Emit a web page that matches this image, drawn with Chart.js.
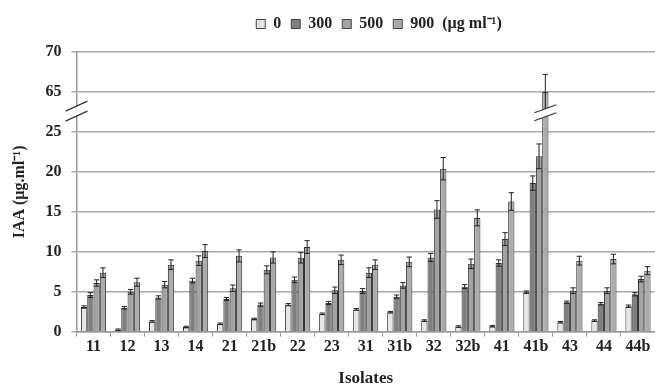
<!DOCTYPE html>
<html>
<head>
<meta charset="utf-8">
<script src="https://cdn.jsdelivr.net/npm/chart.js@4.4.1/dist/chart.umd.min.js"></script>
<style>
  html,body{margin:0;padding:0;background:#fff;}
  #wrap{width:655px;height:385px;position:relative;}
</style>
</head>
<body>
<div id="wrap"><canvas id="c"></canvas></div>
<script>
const categories = ['11','12','13','14','21','21b','22','23','31','31b','32','32b','41','41b','43','44','44b'];
const seriesNames = ['0','300','500','900'];
const unitText = '(µg ml⁻¹)';
const s0   = [3.1, 0.25, 1.3, 0.6, 1.0, 1.6, 3.4, 2.25, 2.8, 2.45, 1.4, 0.65, 0.7, 4.95, 1.2, 1.4, 3.2];
const s300 = [4.6, 3.0, 4.3, 6.4, 4.1, 3.4, 6.5, 3.6, 5.1, 4.4, 9.3, 5.65, 8.6, 18.6, 3.7, 3.5, 4.7];
const s500 = [6.1, 5.0, 5.9, 8.9, 5.45, 7.75, 9.25, 5.2, 7.4, 5.8, 15.3, 8.5, 11.6, 21.95, 5.15, 5.15, 6.6];
const s900 = [7.4, 6.2, 8.4, 10.1, 9.5, 9.3, 10.6, 9.0, 8.4, 8.75, 20.4, 14.25, 16.3, 65.0, 8.9, 9.1, 7.65];
const e0   = [0.15, 0.1, 0.1, 0.1, 0.1, 0.1, 0.15, 0.1, 0.1, 0.1, 0.1, 0.1, 0.1, 0.15, 0.1, 0.1, 0.15];
const e300 = [0.3, 0.15, 0.2, 0.3, 0.2, 0.2, 0.35, 0.2, 0.3, 0.2, 0.5, 0.25, 0.4, 0.9, 0.15, 0.15, 0.2];
const e500 = [0.4, 0.3, 0.4, 0.6, 0.4, 0.5, 0.65, 0.4, 0.6, 0.35, 1.1, 0.6, 0.8, 1.55, 0.35, 0.35, 0.35];
const e900 = [0.6, 0.5, 0.6, 0.8, 0.75, 0.7, 0.8, 0.6, 0.6, 0.6, 1.4, 1.0, 1.1, 2.2, 0.55, 0.6, 0.5];
const yTickLabels = ['0','5','10','15','20','25','65','70'];
// broken axis: values above the break are shifted down so 65 sits one step above 25
const BREAK_LOW = 25, BREAK_HIGH = 65, BREAK_SHIFT = 35;

const series = [s0, s300, s500, s900];
const errors = [e0, e300, e500, e900];
const fills = ['#e6e6e6', '#7f7f7f', '#a3a3a3', '#acacac'];

function toAxis(v){ return v >= BREAK_HIGH - 5 ? v - BREAK_SHIFT : v; }

const FONT = '"Liberation Serif", "Times New Roman", serif';

function drawBreak(ctx, cx, cy, half, drop, gap){
  ctx.save();
  ctx.fillStyle = '#fff';
  ctx.beginPath();
  ctx.moveTo(cx - half, cy - gap/2 + drop/2);
  ctx.lineTo(cx + half, cy - gap/2 - drop/2);
  ctx.lineTo(cx + half, cy + gap/2 - drop/2);
  ctx.lineTo(cx - half, cy + gap/2 + drop/2);
  ctx.closePath();
  ctx.fill();
  ctx.strokeStyle = '#333';
  ctx.lineWidth = 1.2;
  ctx.beginPath();
  ctx.moveTo(cx - half, cy - gap/2 + drop/2);
  ctx.lineTo(cx + half, cy - gap/2 - drop/2);
  ctx.moveTo(cx - half, cy + gap/2 + drop/2);
  ctx.lineTo(cx + half, cy + gap/2 - drop/2);
  ctx.stroke();
  ctx.restore();
}

const errPlugin = {
  id: 'errbars',
  afterLayout(chart){
    // place legend over the plot area like the reference
    const lg = chart.legend;
    if (!lg) return;
    const dx = 379 - (lg.left + lg.right) / 2;
    const dy = -10;
    lg.left += dx; lg.right += dx; lg.top += dy; lg.bottom += dy;
  },
  afterDatasetsDraw(chart){
    const ctx = chart.ctx, y = chart.scales.y;
    ctx.save();
    chart.data.datasets.forEach((ds, di) => {
      const meta = chart.getDatasetMeta(di);
      meta.data.forEach((bar, i) => {
        const v = series[di][i], e = errors[di][i];
        const yt = y.getPixelForValue(toAxis(v + e));
        const yb = y.getPixelForValue(toAxis(v - e));
        const hw = bar.width / 2 - 0.5;
        ctx.strokeStyle = '#222';
        ctx.lineWidth = 1;
        ctx.beginPath();
        ctx.moveTo(bar.x, yt); ctx.lineTo(bar.x, yb);
        ctx.moveTo(bar.x - hw, yt); ctx.lineTo(bar.x + hw, yt);
        ctx.moveTo(bar.x - hw, yb); ctx.lineTo(bar.x + hw, yb);
        ctx.stroke();
        if (v >= BREAK_HIGH) {
          drawBreak(ctx, bar.x, y.getPixelForValue(BREAK_LOW + 2.4), 11, 8, 8);
        }
      });
    });
    drawBreak(ctx, chart.chartArea.left, y.getPixelForValue(BREAK_LOW + 2.6), 11, 10, 10);
    ctx.restore();
  }
};

const datasets = seriesNames.map((n, k) => ({
  label: n,
  data: series[k].map(toAxis),
  backgroundColor: fills[k],
  borderColor: '#333',
  borderWidth: 1,
  categoryPercentage: 0.74,
  barPercentage: 1.0
}));

new Chart(document.getElementById('c'), {
  type: 'bar',
  data: { labels: categories, datasets },
  plugins: [errPlugin],
  options: {
    responsive: true,
    maintainAspectRatio: false,
    animation: false,
    layout: { padding: { top: 16, right: 0, bottom: -2, left: 0 } },
    plugins: {
      tooltip: { enabled: false },
      legend: {
        position: 'top',
        labels: {
          boxWidth: 9, boxHeight: 9, padding: 10,
          color: '#222',
          font: { family: FONT, size: 16, weight: 'bold' },
          generateLabels(chart){
            return chart.data.datasets.map((ds, i) => ({
              text: i === chart.data.datasets.length - 1 ? ds.label + '  ' + unitText : ds.label,
              fillStyle: ds.backgroundColor,
              strokeStyle: '#444',
              lineWidth: 1,
              datasetIndex: i,
              fontColor: '#222'
            }));
          }
        }
      }
    },
    scales: {
      x: {
        offset: true,
        grid: { display: true, drawOnChartArea: false, drawTicks: true, tickLength: 5, color: '#999', offset: true },
        border: { display: true, color: '#999', width: 1.5 },
        ticks: { color: '#222', padding: 0, maxRotation: 0, autoSkip: false, font: { family: FONT, size: 16, weight: 'bold' } },
        title: { display: true, text: 'Isolates', color: '#222', padding: { top: 14, bottom: 0 }, font: { family: FONT, size: 17, weight: 'bold', lineHeight: 1 } }
      },
      y: {
        min: 0, max: 35,
        afterFit(scale){ scale.width = 76.5; },
        grid: { color: '#aaa', lineWidth: 1.5, tickLength: 5 },
        border: { display: true, color: '#999', width: 1.5 },
        ticks: {
          stepSize: 5, padding: 10, color: '#222',
          font: { family: FONT, size: 16, weight: 'bold' },
          callback: (v, i) => yTickLabels[i]
        },
        title: { display: true, text: 'IAA (µg.ml⁻¹)', color: '#222', padding: { top: 10, bottom: 0 }, font: { family: FONT, size: 16, weight: 'bold' } }
      }
    }
  }
});
</script>
</body>
</html>
